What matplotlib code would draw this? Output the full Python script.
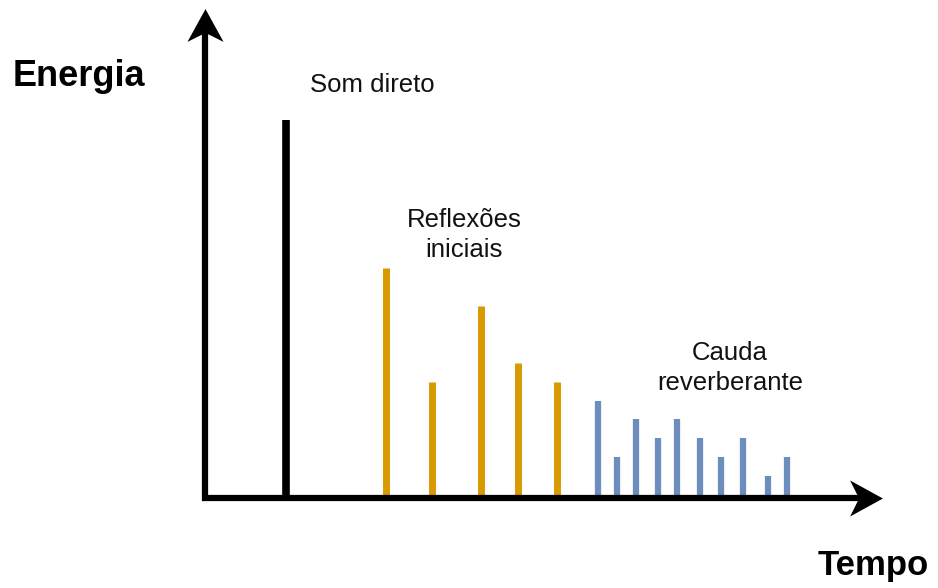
import matplotlib.pyplot as plt
from matplotlib.path import Path

# data (time offset, energy)
direct_t = [81]
direct_e = [378]
early_t = [181, 227, 276, 313, 352]
early_e = [230, 116, 192, 135, 116]
tail_t = [393, 412, 431, 453, 472, 495, 516, 538, 563, 582]
tail_e = [97, 41, 79, 60, 79, 60, 41, 60, 22, 41]

ORANGE = '#D79B00'
BLUE = '#6C8EBF'

plt.rcParams['font.family'] = ['Liberation Sans', 'DejaVu Sans']

fig = plt.figure(figsize=(9.38, 5.88), dpi=100)
ax = fig.add_axes([0, 0, 1, 1])
ax.set_xlim(-205, 733)
ax.set_ylim(-90, 498)
ax.axis('off')

# bars
ax.vlines(direct_t, 0, direct_e, color='black', lw=5.5)
ax.vlines(early_t, 0, early_e, color=ORANGE, lw=5)
ax.vlines(tail_t, 0, tail_e, color=BLUE, lw=4.5)

# axes with notched arrow heads (draw.io "classic" style)
head_r = Path([(1, 0), (-1, 1.1), (-0.45, 0), (-1, -1.1), (1, 0)],
              [Path.MOVETO, Path.LINETO, Path.LINETO, Path.LINETO, Path.CLOSEPOLY])
head_u = Path([(0, 1), (1.1, -1), (0, -0.45), (-1.1, -1), (0, 1)],
              [Path.MOVETO, Path.LINETO, Path.LINETO, Path.LINETO, Path.CLOSEPOLY])
ax.plot([-3, 655], [0, 0], color='black', lw=4.5, solid_capstyle='butt')
ax.plot([0, 0], [-3, 468], color='black', lw=4.5, solid_capstyle='butt')
ax.plot([661], [0], marker=head_r, ms=26, color='black', mew=0)
ax.plot([0], [473], marker=head_u, ms=26, color='black', mew=0)

# labels
ax.text(-192, 421, 'Energia', fontsize=26, fontweight='bold', ha='left', va='center')
ax.text(613, -67, 'Tempo', fontsize=25, fontweight='bold', ha='left', va='center')
ax.text(105, 413, 'Som direto', fontsize=18.5, ha='left', va='center', color='#111111')
ax.text(259, 263, 'Reflexões\niniciais', fontsize=18.5, ha='center', va='center',
        linespacing=1.3, color='#111111')
ax.text(525, 130, 'Cauda\nreverberante', fontsize=18.5, ha='center', va='center',
        linespacing=1.3, color='#111111')

plt.savefig('out.png', dpi=100)
